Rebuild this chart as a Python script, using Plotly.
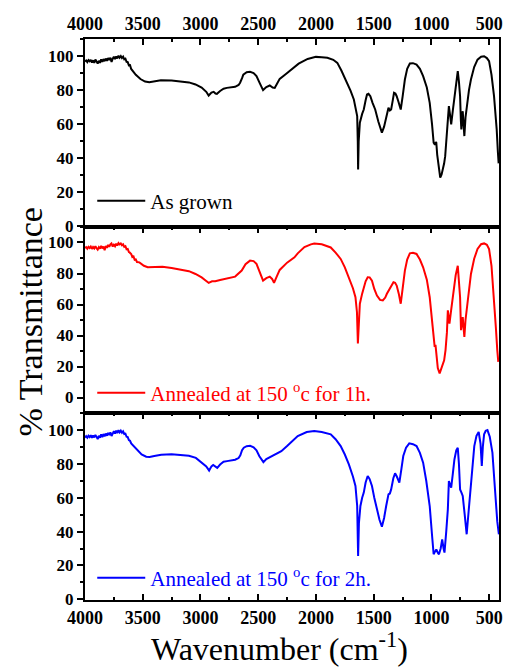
import plotly.graph_objects as go

# FTIR transmittance spectra (wavenumber in cm^-1, transmittance in %)
wn_grown = [4000, 3990, 3980, 3970, 3960, 3950, 3940, 3930, 3920, 3910, 3900, 3890, 3880, 3870, 3860,
            3850, 3840, 3830, 3820, 3810, 3800, 3790, 3780, 3770, 3760, 3750, 3740, 3730, 3720, 3710,
            3700, 3690, 3680, 3670, 3660, 3650, 3640, 3630, 3620, 3610, 3600, 3590, 3560, 3520, 3480,
            3443, 3400, 3343, 3250, 3186, 3100, 3043,
            2990, 2950, 2929, 2905, 2886, 2870, 2858, 2830, 2800, 2772, 2700, 2670, 2657, 2640, 2629,
            2600, 2571, 2540, 2515, 2490, 2470, 2458, 2430, 2400, 2375, 2357, 2335, 2314, 2260, 2215,
            2150, 2072, 2001, 1950, 1901, 1850, 1815, 1780, 1744, 1700, 1672, 1650, 1643, 1638, 1635,
            1630, 1620, 1600, 1586, 1570, 1558, 1545, 1529, 1510, 1487, 1460, 1429, 1410, 1386, 1372,
            1360, 1349, 1335, 1324, 1312, 1301, 1285, 1266, 1250, 1230, 1210, 1187, 1160, 1129, 1100,
            1072, 1040, 1015, 995, 981, 970, 962, 958, 950, 943, 935, 924, 912, 901, 890,
            881, 868, 858, 849, 840, 829, 815, 801, 785, 772, 762, 752, 745, 741, 735,
            729, 722, 715, 705, 695, 675, 658, 630, 601, 570, 544, 520, 501, 480, 458,
            445, 435, 425, 418]
t_grown = [96.8, 97.4, 96.4, 97.6, 96.9, 97.8, 96.2, 97.5, 96.0, 97.9, 96.8, 95.6, 97.2, 96.0, 98.0,
           96.6, 98.2, 97.0, 98.5, 97.2, 98.8, 97.6, 99.0, 96.5, 98.4, 99.6, 98.2, 99.8, 98.6, 100.2,
           99.0, 100.0, 98.8, 99.6, 98.0, 98.4, 96.6, 96.4, 94.5, 94.6, 92.4, 91.5, 89.0, 86.5, 85.0,
           84.6, 85.0, 85.8, 85.6, 85.2, 84.5, 83.3,
           81.5, 79.0, 76.8, 78.5, 79.0, 78.0, 77.8, 79.5, 80.8, 81.3, 81.9, 83.0, 84.3, 87.0, 89.1,
           90.5, 90.7, 90.0, 88.2, 84.5, 81.0, 80.0, 81.8, 82.7, 81.5, 81.3, 84.0, 86.6, 89.5, 92.0,
           95.5, 98.3, 99.5, 99.3, 99.0, 97.8, 96.0, 91.5, 86.2, 79.5, 74.5, 67.0, 64.7, 50.0, 33.4,
           50.0, 60.8, 66.0, 68.6, 74.0, 77.4, 77.8, 76.4, 72.5, 68.6, 61.5, 55.0, 58.5, 64.7, 69.6,
           68.0, 68.6, 74.0, 78.4, 78.0, 76.4, 73.0, 68.6, 76.0, 86.2, 92.5, 95.6, 95.8, 95.0, 92.5,
           88.2, 81.5, 72.5, 60.0, 49.1, 48.0, 49.5, 49.1, 42.0, 37.4, 32.0, 28.6, 30.5, 33.4, 37.0,
           41.2, 52.0, 60.8, 70.6, 66.0, 59.8, 68.0, 76.4, 87.0, 91.1, 85.0, 76.4, 62.0, 56.9, 63.0,
           67.6, 60.0, 53.0, 64.0, 70.6, 80.0, 86.2, 93.5, 97.9, 99.6, 99.9, 98.8, 97.0, 89.0, 76.4,
           66.0, 56.9, 44.0, 37.0]

wn_1h = [4000, 3990, 3980, 3970, 3960, 3950, 3940, 3930, 3920, 3910, 3900, 3890, 3880, 3870, 3860,
         3850, 3840, 3830, 3820, 3810, 3800, 3790, 3780, 3771, 3760, 3750, 3740, 3730, 3720, 3710,
         3700, 3690, 3680, 3670, 3660, 3650, 3640, 3630, 3620, 3614, 3600, 3590, 3580, 3570, 3560,
         3550, 3529, 3490, 3457, 3400, 3329, 3250, 3186, 3100, 3043,
         2990, 2950, 2929, 2900, 2872, 2830, 2786, 2740, 2700, 2643, 2610, 2571, 2540, 2515, 2490,
         2458, 2430, 2400, 2380, 2363, 2340, 2314, 2250, 2186, 2158, 2100, 2044, 2015, 1950, 1872,
         1830, 1786, 1750, 1715, 1680, 1658, 1645, 1637, 1630, 1620, 1600, 1586, 1570, 1552, 1535,
         1515, 1495, 1472, 1445, 1421, 1400, 1386, 1363, 1345, 1329, 1315, 1301, 1283, 1266, 1250,
         1230, 1210, 1187, 1160, 1129, 1100, 1072, 1040, 1015, 990, 972, 965, 958, 945, 929,
         915, 901, 890, 878, 866, 858, 850, 844, 830, 815, 790, 772, 762, 752, 744,
         737, 729, 722, 715, 705, 695, 675, 658, 630, 601, 570, 544, 520, 501, 480,
         458, 442, 430, 421]
t_1h = [96.4, 97.0, 96.0, 97.2, 96.5, 97.4, 95.9, 97.1, 96.2, 97.6, 96.4, 95.4, 97.0, 96.0, 97.8,
        96.2, 97.4, 95.0, 97.8, 96.6, 98.4, 97.2, 98.8, 99.4, 97.4, 98.6, 97.6, 99.2, 98.0, 99.6,
        98.8, 99.4, 98.2, 98.8, 97.2, 97.6, 95.6, 95.8, 93.8, 93.6, 92.6, 90.6, 91.0, 88.8, 89.0,
        87.4, 87.2, 85.0, 84.0, 84.2, 84.4, 83.6, 82.9, 81.5, 79.7,
        77.5, 75.2, 74.0, 75.0, 75.0, 75.8, 76.5, 77.2, 78.0, 81.9, 86.0, 88.3, 88.0, 86.2, 81.0,
        75.4, 77.0, 78.0, 76.5, 74.0, 78.0, 82.3, 87.0, 90.4, 93.0, 97.0, 98.8, 99.4, 98.8, 96.8,
        93.5, 89.4, 84.0, 77.6, 70.5, 64.7, 55.0, 34.9, 50.0, 60.5, 67.0, 71.2, 75.0, 77.6, 77.5,
        75.4, 70.0, 65.8, 63.0, 62.6, 64.5, 66.9, 70.1, 72.5, 74.4, 74.0, 72.2, 67.0, 60.5, 70.0,
        81.9, 89.0, 93.0, 93.3, 92.6, 89.0, 84.0, 76.0, 64.7, 46.0, 32.7, 34.0, 26.3, 19.0, 15.6,
        19.0, 22.0, 24.0, 30.6, 42.0, 56.2, 52.0, 47.7, 56.0, 64.7, 79.0, 85.0, 77.0, 64.7, 43.4,
        48.0, 51.9, 45.0, 39.1, 50.0, 57.3, 70.0, 79.7, 89.5, 95.8, 98.9, 99.4, 98.5, 95.8, 85.0,
        64.7, 45.0, 30.6, 23.0]

wn_2h = [4000, 3990, 3980, 3970, 3960, 3950, 3940, 3930, 3920, 3910, 3900, 3890, 3880, 3870, 3860,
         3850, 3840, 3830, 3820, 3810, 3800, 3790, 3780, 3770, 3760, 3750, 3740, 3730, 3720, 3710,
         3700, 3690, 3680, 3670, 3660, 3650, 3640, 3630, 3620, 3610, 3600, 3580, 3550, 3510, 3470,
         3440, 3400, 3340, 3250, 3180, 3100, 3040,
         2990, 2950, 2925, 2905, 2890, 2870, 2855, 2830, 2800, 2770, 2700, 2670, 2655, 2640, 2625,
         2600, 2570, 2540, 2515, 2490, 2470, 2455, 2430, 2400, 2370, 2340, 2300, 2250, 2200, 2158,
         2080, 2015, 1950, 1872, 1830, 1786, 1750, 1715, 1680, 1658, 1643, 1635, 1628, 1615, 1600,
         1586, 1570, 1552, 1535, 1515, 1495, 1472, 1450, 1429, 1410, 1392, 1372, 1360, 1349, 1330,
         1315, 1300, 1278, 1260, 1244, 1220, 1192, 1160, 1129, 1100, 1072, 1045, 1015, 995, 981,
         970, 958, 945, 935, 920, 907, 895, 887, 872, 858, 849, 840, 829, 815, 801,
         785, 772, 762, 752, 740, 729, 712, 695, 678, 658, 640, 629, 610, 591, 575,
         564, 555, 544, 530, 515, 495, 472, 455, 444, 430, 416]
t_2h = [95.5, 96.3, 95.4, 96.6, 95.8, 96.9, 95.3, 96.7, 95.6, 97.0, 95.9, 94.6, 96.6, 95.4, 97.4,
        95.8, 97.6, 96.2, 97.9, 96.6, 98.2, 97.0, 98.6, 96.4, 97.8, 99.2, 97.8, 99.6, 98.2, 99.9,
        98.6, 99.6, 98.4, 99.2, 97.6, 97.8, 96.0, 95.8, 94.0, 93.6, 92.0, 90.5, 88.0, 85.5, 84.2,
        84.0, 84.6, 85.4, 85.6, 85.2, 84.8, 83.5,
        81.0, 78.5, 76.0, 78.5, 79.3, 78.0, 77.6, 79.6, 81.2, 81.6, 82.4, 83.4, 85.0, 88.0, 89.5,
        90.4, 90.6, 89.8, 88.0, 84.5, 82.0, 81.0, 82.8, 84.0, 85.0, 86.0, 87.5, 90.5, 93.5, 96.4,
        98.8, 99.4, 98.8, 97.4, 94.5, 90.5, 85.5, 79.7, 72.5, 66.9, 55.1, 25.6, 45.0, 55.1, 60.0,
        63.0, 69.0, 72.8, 71.0, 66.9, 60.0, 53.1, 47.0, 42.9, 48.0, 55.1, 62.0, 62.5, 64.9, 71.5,
        74.4, 72.5, 68.9, 77.0, 84.6, 89.5, 92.1, 91.6, 90.5, 86.5, 80.7, 70.0, 55.1, 38.0, 26.6,
        28.0, 29.5, 27.5, 26.6, 30.0, 35.4, 30.0, 27.6, 40.0, 53.1, 69.8, 68.0, 65.9, 74.0, 82.6,
        88.0, 89.5, 80.0, 64.9, 63.0, 61.0, 50.0, 38.4, 52.0, 66.9, 82.0, 90.5, 96.5, 98.8, 92.0,
        78.7, 90.0, 97.4, 99.5, 99.9, 96.0, 86.6, 70.0, 57.1, 46.0, 38.4]

y_ticks = [0, 20, 40, 60, 80, 100]
x_ticks = [4000, 3500, 3000, 2500, 2000, 1500, 1000, 500]

SERIF = "Liberation Serif, Times New Roman, Times, serif"
panels = [
    ("As grown", wn_grown, t_grown, "#000000", [-0.4, 110], [0.6649, 1.0], 0.711),
    ("Annealed at 150 <sup>o</sup>c for 1h.", wn_1h, t_1h, "#ff0000", [-10, 110], [0.3333, 0.6649], 0.369),
    ("Annealed at 150 <sup>o</sup>c for 2h.", wn_2h, t_2h, "#0000ff", [-0.4, 110], [0.0, 0.3333], 0.039),
]

fig = go.Figure()
layout = dict(
    width=507, height=667,
    margin=dict(l=85, r=4, t=39, b=67),
    paper_bgcolor="white", plot_bgcolor="white",
    showlegend=True,
    font=dict(family=SERIF, color="black"),
)

for i, (name, wn, tr, color, yrange, ydom, leg_y) in enumerate(panels, start=1):
    sfx = "" if i == 1 else str(i)
    leg_key = "legend" if i == 1 else f"legend{i}"
    fig.add_trace(go.Scatter(
        x=wn, y=tr, mode="lines", name=name,
        line=dict(color=color, width=2),
        xaxis=f"x{sfx}", yaxis=f"y{sfx}", legend=leg_key,
    ))
    layout[f"xaxis{sfx}"] = dict(
        anchor=f"y{sfx}", domain=[0, 1], range=[4000, 415],
        side="bottom" if i == 3 else "top",
        tickmode="array", tickvals=x_ticks,
        showticklabels=(i != 2),
        ticks="inside", ticklen=6, tickwidth=2, tickcolor="black",
        minor=dict(ticks="inside", ticklen=3, tickwidth=2, dtick=250, tick0=0, tickcolor="black"),
        showline=True, linewidth=2, linecolor="black",
        mirror="ticks" if i == 3 else True,
        showgrid=False, zeroline=False, ticklabeloverflow="allow",
        tickfont=dict(family=SERIF, size=18, color="black", weight="bold"),
    )
    layout[f"yaxis{sfx}"] = dict(
        anchor=f"x{sfx}", domain=ydom, range=yrange,
        tickmode="array", tickvals=y_ticks,
        ticks="outside", ticklen=6, tickwidth=2, tickcolor="black",
        minor=dict(ticks="outside", ticklen=3, tickwidth=2, dtick=10, tick0=0, tickcolor="black"),
        showline=True, linewidth=2, linecolor="black", mirror=True,
        showgrid=False, zeroline=False, ticklabeloverflow="allow",
        tickfont=dict(family=SERIF, size=17, color="black", weight="bold"),
    )
    layout[leg_key] = dict(
        x=0.0175, y=leg_y, xanchor="left", yanchor="middle",
        bgcolor="rgba(0,0,0,0)", borderwidth=0, itemwidth=48,
        font=dict(family=SERIF, size=21, color=color),
    )

layout["annotations"] = [
    dict(text="% Transmittance", xref="paper", yref="paper", x=-0.1316, y=0.4955,
         xanchor="center", yanchor="middle", textangle=-90, showarrow=False,
         font=dict(family=SERIF, size=34, color="black")),
    dict(text="Wavenumber (cm<sup>-1</sup>)", xref="paper", yref="paper", x=0.471, y=-0.084,
         xanchor="center", yanchor="middle", showarrow=False,
         font=dict(family=SERIF, size=32, color="black")),
]

fig.update_layout(**layout)
fig.write_html("out.html")
